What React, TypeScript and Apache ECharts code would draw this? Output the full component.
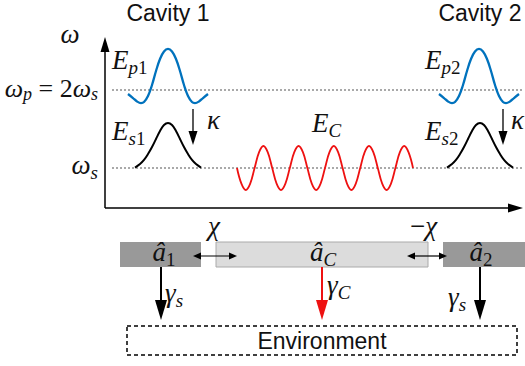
import React, { useEffect, useRef } from 'react';
import * as echarts from 'echarts';

const W = 525;
const H = 366;

// Frequency levels (in units of ω_s) and their dotted guide lines
const LEVEL_W = [2, 1];
const LEVEL_X = [112, 523];

// Pump pulses (blue) around ω_p = 2ω_s
const PUMP1_X = [128, 133, 137, 141, 144, 148, 152, 156, 160, 164, 168, 172, 176, 180, 184, 188, 192, 195, 199, 203, 208];
const PUMP2_X = [439, 444, 448, 452, 455, 459, 463, 467, 471, 475, 479, 483, 487, 491, 495, 499, 503, 506, 510, 514, 519];
const PUMP_W = [1.949, 1.897, 1.853, 1.833, 1.846, 1.923, 2.064, 2.244, 2.397, 2.494, 2.526, 2.494, 2.397, 2.244, 2.064, 1.923, 1.846, 1.833, 1.853, 1.897, 1.949];

// Signal pulses (black) around ω_s
const SIG1_X = [135, 140, 144, 148, 152, 156, 160, 164, 168, 172, 176, 180, 184, 188, 192, 196, 201];
const SIG2_X = [447, 452, 456, 460, 464, 468, 472, 476, 480, 484, 488, 492, 496, 500, 504, 508, 513];
const SIG_W = [1.006, 1.051, 1.103, 1.179, 1.269, 1.372, 1.474, 1.551, 1.577, 1.551, 1.474, 1.372, 1.269, 1.179, 1.103, 1.051, 1.006];

// Coupler mode (red) oscillation around ω_s
const CPL_X = [237, 241.4, 245.8, 250.2, 254.6, 259, 263.4, 267.8, 272.2, 276.6, 281, 285.4, 289.8, 294.2, 298.6, 303, 307.4, 311.8, 316.2, 320.6, 325, 329.4, 333.8, 338.2, 342.6, 347, 351.4, 355.8, 360.2, 364.6, 369, 373.4, 377.8, 382.2, 386.6, 391, 395.4, 399.8, 404.2, 408.6, 413];
const CPL_W = [1, 0.8, 0.718, 0.8, 1, 1.2, 1.282, 1.2, 1, 0.8, 0.718, 0.8, 1, 1.2, 1.282, 1.2, 1, 0.8, 0.718, 0.8, 1, 1.2, 1.282, 1.2, 1, 0.8, 0.718, 0.8, 1, 1.2, 1.282, 1.2, 1, 0.8, 0.718, 0.8, 1, 1.2, 1.282, 1.2, 1];

const CAVITY_LABELS = ['Cavity 1', 'Cavity 2'];
const ENV_LABEL = 'Environment';

const PX_PER_W = 78;
const ZERO_Y = 246;

const MATH = '"Liberation Serif", "DejaVu Serif", serif';
const SANS = '"Liberation Sans", Arial, sans-serif';
const BLUE = '#0072BD';
const RED = '#EE1111';

const zip = (xs: number[], ws: number[]) => xs.map((x, i) => [x, ws[i]]);

function rich(size: number) {
  const s = Math.round(size * 0.7);
  const pad = Math.round(size * 0.4);
  return {
    m: { fontFamily: MATH, fontStyle: 'italic', fontSize: size, lineHeight: size, verticalAlign: 'top', fill: '#111' },
    u: { fontFamily: MATH, fontSize: size, lineHeight: size, verticalAlign: 'top', fill: '#111' },
    s: { fontFamily: MATH, fontStyle: 'italic', fontSize: s, lineHeight: s, padding: [pad, 0, 0, 0], verticalAlign: 'top', fill: '#111' },
    d: { fontFamily: MATH, fontSize: s, lineHeight: s, padding: [pad, 0, 0, 0], verticalAlign: 'top', fill: '#111' },
  };
}

function mtext(x: number, y: number, text: string, align = 'left', size = 27): any {
  return {
    type: 'text', x, y, z: 10,
    style: { text, rich: rich(size), align, verticalAlign: 'middle' },
  };
}

function line(x1: number, y1: number, x2: number, y2: number, color = '#000', width = 1.5, dash?: number[]): any {
  return { type: 'line', shape: { x1, y1, x2, y2 }, style: { stroke: color, lineWidth: width, lineDash: dash }, z: 5 };
}

function tri(points: number[][], color = '#000'): any {
  return { type: 'polygon', shape: { points }, style: { fill: color }, z: 6 };
}

function downArrow(x: number, y1: number, y2: number, color: string, width: number, hw: number, hl: number): any[] {
  return [line(x, y1, x, y2 - hl + 1, color, width), tri([[x, y2], [x - hw, y2 - hl], [x + hw, y2 - hl]], color)];
}

function dblArrow(x1: number, x2: number, y: number): any[] {
  return [
    line(x1 + 5, y, x2 - 5, y, '#000', 1.2),
    tri([[x1, y], [x1 + 8, y - 3.5], [x1 + 8, y + 3.5]]),
    tri([[x2, y], [x2 - 8, y - 3.5], [x2 - 8, y + 3.5]]),
  ];
}

export default function App() {
  const ref = useRef<HTMLDivElement>(null);
  useEffect(() => {
    document.body.style.margin = '0';
    const chart = echarts.init(ref.current!, undefined, { renderer: 'svg' });
    const yMax = ZERO_Y / PX_PER_W;
    const yMin = (ZERO_Y - H) / PX_PER_W;

    const wave = (data: number[][], color: string, width: number) => ({
      type: 'line', data, showSymbol: false, smooth: 0.4, silent: true,
      lineStyle: { color, width }, z: 3,
    });

    const graphics: any[] = [
      // axes
      line(105, 208, 105, 50, '#000', 1.5),
      tri([[105, 37], [100.5, 52], [109.5, 52]]),
      line(105, 208, 510, 208, '#000', 1.5),
      tri([[523, 208], [508, 203.5], [508, 212.5]]),
      // titles
      { type: 'text', x: 168, y: 13, style: { text: CAVITY_LABELS[0], font: `23px ${SANS}`, fill: '#111', align: 'center', verticalAlign: 'middle' } },
      { type: 'text', x: 480, y: 13, style: { text: CAVITY_LABELS[1], font: `23px ${SANS}`, fill: '#111', align: 'center', verticalAlign: 'middle' } },
      // axis labels
      mtext(70, 34, '{m|ω}', 'center'),
      mtext(98, 88, '{m|ω}{s|p}{u| = 2}{m|ω}{s|s}', 'right', 26),
      mtext(98, 165, '{m|ω}{s|s}', 'right'),
      // pulse labels
      mtext(112, 60, '{m|E}{s|p}{d|1}'),
      mtext(112, 131, '{m|E}{s|s}{d|1}'),
      mtext(425, 60, '{m|E}{s|p}{d|2}'),
      mtext(425, 131, '{m|E}{s|s}{d|2}'),
      mtext(312, 123, '{m|E}{s|C}'),
      // kappa arrows
      ...downArrow(193, 109, 145, '#000', 1.3, 4.5, 14),
      ...downArrow(503, 109, 145, '#000', 1.3, 4.5, 14),
      mtext(207, 120, '{m|κ}'),
      mtext(511, 120, '{m|κ}'),
      // boxes
      { type: 'rect', shape: { x: 120, y: 242, width: 81, height: 25 }, style: { fill: '#999999' }, z: 1 },
      { type: 'rect', shape: { x: 216, y: 242, width: 212, height: 25 }, style: { fill: '#DCDCDC', stroke: '#AAAAAA', lineWidth: 1 }, z: 1 },
      { type: 'rect', shape: { x: 443, y: 242, width: 84, height: 25 }, style: { fill: '#999999' }, z: 1 },
      mtext(164, 252, '{m|â}{d|1}', 'center'),
      mtext(323, 252, '{m|â}{s|C}', 'center'),
      mtext(481, 252, '{m|â}{d|2}', 'center'),
      ...dblArrow(193, 237, 256),
      ...dblArrow(407, 447, 256),
      mtext(208, 226, '{m|χ}'),
      mtext(410, 226, '{u|−}{m|χ}'),
      // decay arrows
      ...downArrow(161, 267, 320, '#000', 2, 6, 20),
      ...downArrow(322, 267, 320, RED, 2, 6, 20),
      ...downArrow(480, 267, 320, '#000', 2, 6, 20),
      mtext(165, 293, '{m|γ}{s|s}'),
      mtext(327, 285, '{m|γ}{s|C}'),
      mtext(448, 297, '{m|γ}{s|s}'),
      // environment
      { type: 'rect', shape: { x: 127, y: 326, width: 390, height: 29 }, style: { fill: 'none', stroke: '#000', lineWidth: 1.5, lineDash: [4, 3] }, z: 1 },
      { type: 'text', x: 322, y: 341, style: { text: ENV_LABEL, font: `23px ${SANS}`, fill: '#111', align: 'center', verticalAlign: 'middle' } },
    ];

    chart.setOption({
      animation: false,
      backgroundColor: '#fff',
      grid: { left: 0, right: 0, top: 0, bottom: 0 },
      xAxis: { type: 'value', min: 0, max: W, show: false },
      yAxis: { type: 'value', min: yMin, max: yMax, show: false },
      series: [
        ...LEVEL_W.map((w) => ({
          type: 'line', data: LEVEL_X.map((x) => [x, w]), showSymbol: false, silent: true,
          lineStyle: { color: '#555', width: 1.2, type: [2, 2] }, z: 2,
        })),
        wave(zip(PUMP1_X, PUMP_W), BLUE, 2.3),
        wave(zip(PUMP2_X, PUMP_W), BLUE, 2.3),
        wave(zip(SIG1_X, SIG_W), '#000', 2),
        wave(zip(SIG2_X, SIG_W), '#000', 2),
        wave(zip(CPL_X, CPL_W), RED, 1.8),
      ],
      graphic: graphics,
    });
    return () => chart.dispose();
  }, []);
  return <div ref={ref} style={{ width: W, height: H }} />;
}
